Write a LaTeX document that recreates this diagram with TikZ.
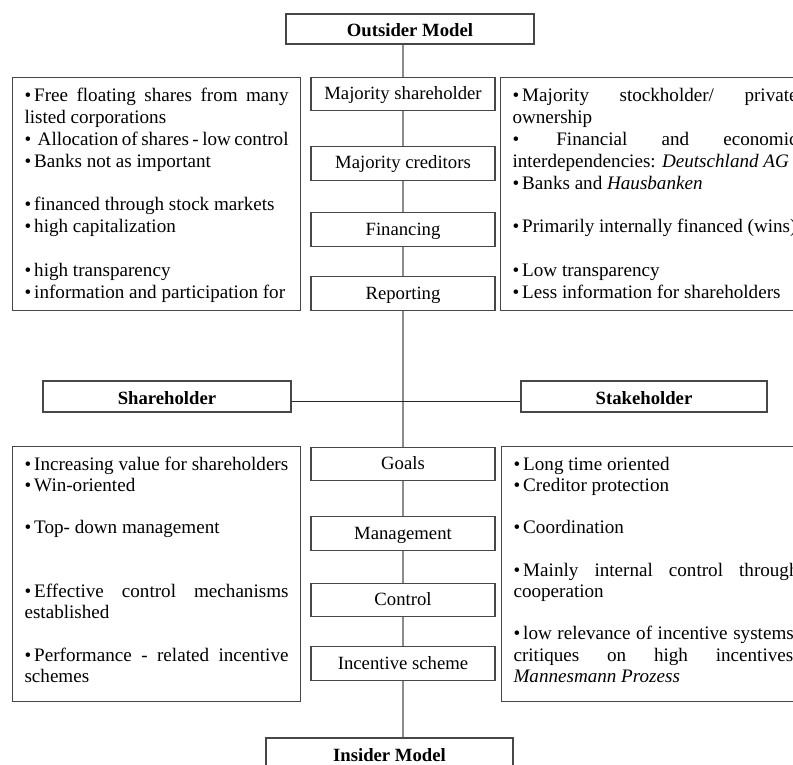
\documentclass[tikz,border=0pt]{standalone}
\usepackage{fontspec}
\setmainfont{Liberation Serif}
\usetikzlibrary{positioning}

\newcommand\bul{\textbullet\kern3pt}
\newcommand\blankline{\mbox{}\par}
\hfuzz=40pt \hbadness=10000

\begin{document}
\begin{tikzpicture}[x=1pt, y=-1pt, font=\fontsize{18.7}{21.5}\selectfont]
  \tikzset{
    titlebox/.style={draw=black!72, line width=1.1pt, fill=white, font=\fontsize{18.7}{21.5}\selectfont\bfseries, minimum height=30, inner sep=0pt, text height=16, text depth=0},
    rowbox/.style={draw=black!72, line width=1.1pt, fill=white, minimum width=184, minimum height=33.5, inner sep=0pt, text height=15, text depth=4},
    notebox/.style={draw=black!72, line width=1.1pt, anchor=north west, inner xsep=12, inner ysep=9},
    spine/.style={draw=black!45, line width=2pt},
    link/.style={draw=black!85, line width=0.9pt}
  }
  \useasboundingbox (0,0) rectangle (793,765);
  \clip (0,0) rectangle (793,765);
  \fill[white] (0,0) rectangle (793,765);

  % titles
  \node[titlebox, minimum width=248] (outsider) at (410,29) {Outsider Model};
  \node[titlebox, minimum width=247] (insider) at (389.5,753) {Insider Model};
  \node[titlebox, minimum width=248, minimum height=31] (sharehold) at (167,396.5) {Shareholder};
  \node[titlebox, minimum width=246, minimum height=31] (stakehold) at (644,396.5) {Stakeholder};

  % middle column
  \node[rowbox] (majshare) at (403,94) {Majority shareholder};
  \node[rowbox] (majcred) at (403,163.5) {Majority creditors};
  \node[rowbox] (financing) at (403,229.5) {Financing};
  \node[rowbox] (reporting) at (403,293.5) {Reporting};
  \node[rowbox] (goals) at (403,464) {Goals};
  \node[rowbox] (manage) at (403,533.5) {Management};
  \node[rowbox] (control) at (403,600) {Control};
  \node[rowbox] (incentive) at (403,663.5) {Incentive scheme};

  % connectors
  \draw[spine] (outsider.south -| majshare) -- (majshare);
  \draw[spine] (majshare) -- (majcred);
  \draw[spine] (majcred) -- (financing);
  \draw[spine] (financing) -- (reporting);
  \draw[spine] (reporting) -- (goals);
  \draw[spine] (goals) -- (manage);
  \draw[spine] (manage) -- (control);
  \draw[spine] (control) -- (incentive);
  \draw[spine] (incentive) -- (incentive |- insider.north);
  \draw[link] ([yshift=-4.5pt]sharehold.east) -- ([yshift=-4.5pt]stakehold.west);

  % outsider side
  \node[notebox] (outleft) at (12,77) {\parbox[c][215pt][t]{264pt}{\fontsize{19.1}{21.8}\selectfont\strut
    \bul Free floating shares from many\linebreak listed corporations\par
    \bul\ Allocation of shares - low control\par
    \bul Banks not as important\par
    \blankline
    \bul financed through stock markets\par
    \bul high capitalization\par
    \blankline
    \bul high transparency\par
    \bul information and participation for}};
  \node[notebox] (outright) at (500,77) {\parbox[c][215pt][t]{285pt}{\fontsize{19.1}{21.8}\selectfont\strut
    \bul Majority stockholder/ private\linebreak ownership\par
    \bul\ Financial and economic\linebreak \mbox{interdependencies: \textit{Deutschland AG}}\par
    \bul Banks and \textit{Hausbanken}\par
    \blankline
    \bul Primarily internally financed (wins)\par
    \blankline
    \bul Low transparency\par
    \bul Less information for shareholders}};

  % insider side
  \node[notebox] (inleft) at (12,446) {\parbox[c][237pt][t]{264pt}{\fontsize{19.1}{21.2}\selectfont\strut
    \bul Increasing value for shareholders\par
    \bul Win-oriented\par
    \blankline
    \bul Top- down management\par
    \blankline
    \blankline
    \bul Effective control mechanisms\linebreak established\par
    \blankline
    \bul Performance - related incentive\linebreak schemes}};
  \node[notebox] (inright) at (501,446) {\parbox[c][237pt][t]{285pt}{\fontsize{19.1}{21.2}\selectfont\strut
    \bul Long time oriented\par
    \bul Creditor protection\par
    \blankline
    \bul Coordination\par
    \blankline
    \bul Mainly internal control through\linebreak cooperation\par
    \blankline
    \bul low relevance of incentive systems,\linebreak critiques on high incentives:\linebreak \textit{Mannesmann Prozess}}};
\end{tikzpicture}
\end{document}
